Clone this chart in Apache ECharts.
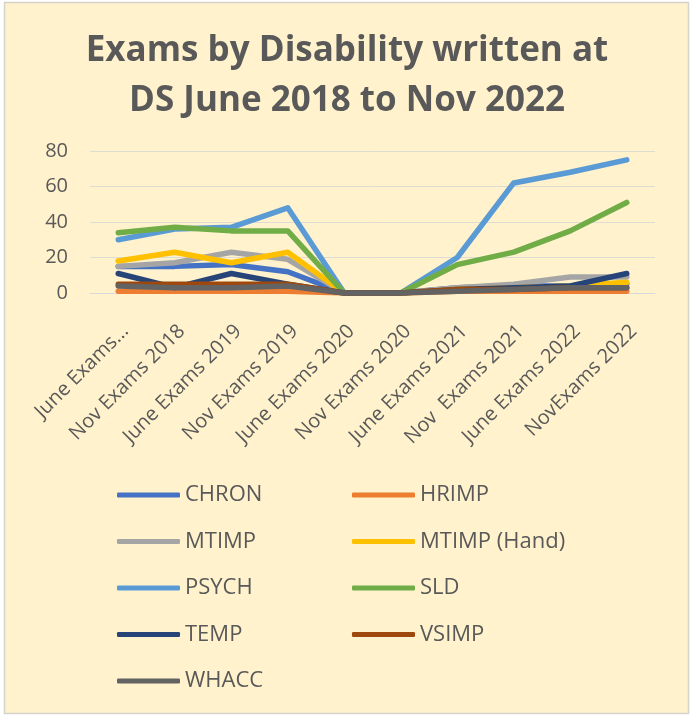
<!DOCTYPE html>
<html>
<head>
<meta charset="utf-8">
<script src="https://cdn.jsdelivr.net/npm/echarts@6/dist/echarts.min.js"></script>
<style>
html,body{margin:0;padding:0;background:#fff;}
#c{width:694px;height:720px;}
</style>
</head>
<body>
<div id="c"></div>
<script>
const categories = ["June Exams...", "Nov Exams 2018", "June Exams 2019", "Nov Exams 2019", "June Exams 2020", "Nov Exams 2020", "June Exams 2021", "Nov  Exams 2021", "June Exams 2022", "NovExams 2022"];
const yTicks = [0, 20, 40, 60, 80];
const CHRON = [15, 15, 16, 12, 0, 0, 3, 4, 4, 5];
const HRIMP = [1, 1, 1, 1, 0, 0, 1, 1, 1, 1];
const MTIMP = [15, 17, 23, 19, 0, 0, 3, 5, 9, 9];
const MTIMP_HAND = [18, 23, 17, 23, 0, 0, 2, 3, 4, 6];
const PSYCH = [30, 36, 37, 48, 0, 0, 20, 62, 68, 75];
const SLD = [34, 37, 35, 35, 0, 0, 16, 23, 35, 51];
const TEMP = [11, 3, 11, 5, 0, 0, 2, 3, 4, 11];
const VSIMP = [5, 5, 5, 5, 0, 0, 2, 2, 3, 3];
const WHACC = [4, 3, 3, 4, 0, 0, 1, 2, 3, 3];

const seriesNames = ["CHRON", "HRIMP", "MTIMP", "MTIMP (Hand)", "PSYCH", "SLD", "TEMP", "VSIMP", "WHACC"];
const seriesData = [CHRON, HRIMP, MTIMP, MTIMP_HAND, PSYCH, SLD, TEMP, VSIMP, WHACC];
const colors = ["#4472C4", "#ED7D31", "#A5A5A5", "#FFC000", "#5B9BD5", "#70AD47", "#264478", "#9E480E", "#636363"];

const FONT = "'Open Sans', Lato, sans-serif";
const chart = echarts.init(document.getElementById('c'));

const legendCommon = {
  orient: 'vertical',
  icon: 'roundRect',
  itemWidth: 63,
  itemHeight: 5,
  itemGap: 24.5,
  textStyle: { fontFamily: FONT, fontSize: 22, color: '#595959', lineHeight: 20 }
};

chart.setOption({
  backgroundColor: '#ffffff',
  animation: false,
  color: colors,
  graphic: [{
    type: 'rect', z: -10, silent: true,
    shape: { x: 4.5, y: 2.5, width: 684, height: 711 },
    style: { fill: '#FFF2CC', stroke: '#d6d3cc', lineWidth: 1.5 }
  }],
  title: {
    text: 'Exams by Disability written at\nDS June 2018 to Nov 2022',
    left: 'center',
    top: 21,
    textStyle: { fontFamily: FONT, fontSize: 35, fontWeight: 'bold', color: '#595959', lineHeight: 50 }
  },
  legend: [
    Object.assign({ left: 112, top: 479, data: ["CHRON", "MTIMP", "PSYCH", "TEMP", "WHACC"] }, legendCommon),
    Object.assign({ left: 347, top: 479, data: ["HRIMP", "MTIMP (Hand)", "SLD", "VSIMP"] }, legendCommon)
  ],
  grid: { left: 90, right: 39, top: 151, height: 142, containLabel: false },
  xAxis: {
    type: 'category',
    data: categories,
    boundaryGap: true,
    axisLine: { show: true, lineStyle: { color: '#d9d9d9', width: 1 } },
    axisTick: { show: false },
    axisLabel: { rotate: 45, interval: 0, fontFamily: FONT, fontSize: 20, color: '#595959', margin: 28, align: 'right', verticalAlign: 'top' }
  },
  yAxis: {
    type: 'value',
    min: yTicks[0],
    max: yTicks[yTicks.length - 1],
    interval: 20,
    axisLine: { show: false },
    axisTick: { show: false },
    splitLine: { lineStyle: { color: '#dcdcd4', width: 1 } },
    axisLabel: { fontFamily: FONT, fontSize: 20, color: '#595959', margin: 22 }
  },
  series: seriesNames.map((n, i) => ({
    name: n,
    type: 'line',
    data: seriesData[i],
    symbol: 'none',
    lineStyle: { width: 5.5, color: colors[i], cap: 'round', join: 'round' },
    itemStyle: { color: colors[i] }
  }))
});
</script>
</body>
</html>
